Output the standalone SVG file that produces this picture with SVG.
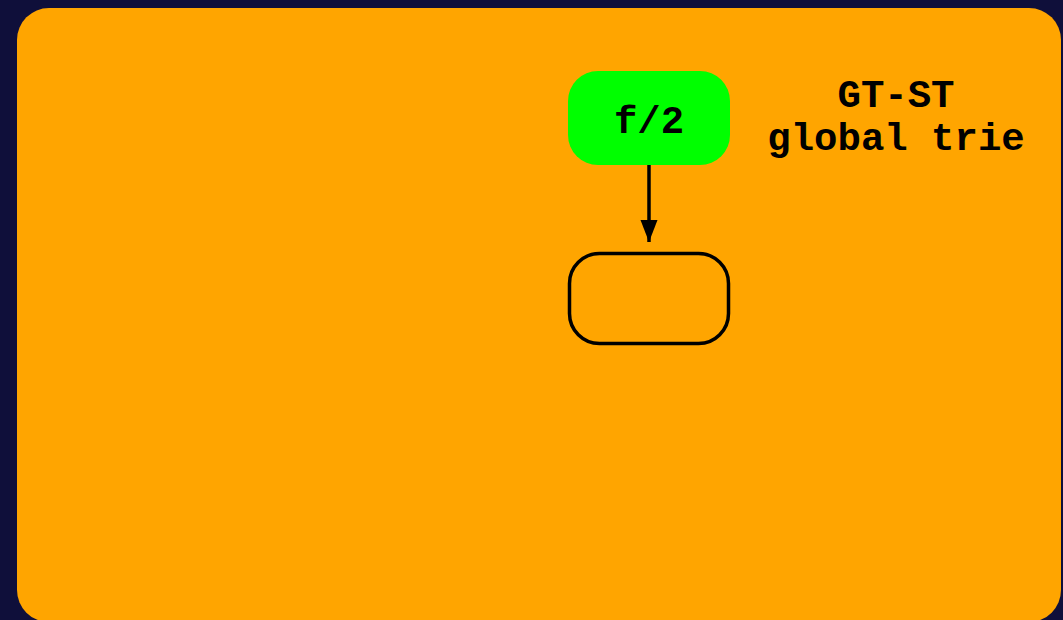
<svg xmlns="http://www.w3.org/2000/svg" width="1063" height="620" viewBox="0 0 1063 620">
  <style>
    .lbl { font-family: "Liberation Mono", "Courier New", monospace; font-weight: bold; font-size: 39px; fill: #000; text-anchor: middle; }
    .edge { stroke: #000; stroke-width: 3.5; fill: none; }
  </style>
  <defs>
    <marker id="arrow" markerUnits="userSpaceOnUse" markerWidth="23" markerHeight="18" refX="22" refY="8.5" orient="auto">
      <path d="M0,0 L22,8.5 L0,17 Z" fill="#000"/>
    </marker>
  </defs>
  <!-- backdrop and panel -->
  <rect x="0" y="0" width="1063" height="620" fill="#0f0f3a"/>
  <rect x="17" y="8" width="1044" height="614" rx="32" ry="32" fill="#ffa500"/>

  <g id="title">
    <text class="lbl" x="896" y="107">GT-ST</text>
    <text class="lbl" x="896" y="150">global trie</text>
  </g>

  <g id="node-f2">
    <rect x="568" y="71" width="162" height="94" rx="30" ry="30" fill="#00ff00"/>
    <text class="lbl" x="649" y="133">f/2</text>
  </g>

  <g id="node-child">
    <rect x="569.5" y="253.5" width="159" height="90" rx="30" ry="30" fill="none" stroke="#000" stroke-width="3.5"/>
  </g>

  <g id="connectors">
    <line class="edge" x1="649" y1="165" x2="649" y2="242" marker-end="url(#arrow)"/>
  </g>
</svg>
